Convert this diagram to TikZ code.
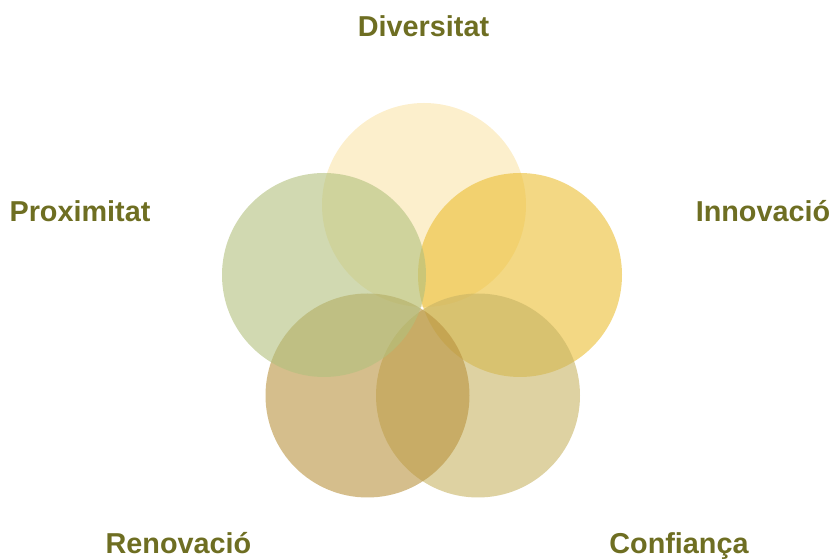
\documentclass[tikz,border=0pt]{standalone}
\usepackage{fontspec}
\setmainfont{Liberation Sans}
\usetikzlibrary{positioning}
\definecolor{labeltext}{HTML}{6E6E22}
\definecolor{petalA}{HTML}{FAE4AA}
\definecolor{petalB}{HTML}{EBBE32}
\definecolor{petalC}{HTML}{C8B464}
\definecolor{petalD}{HTML}{B9933F}
\definecolor{petalE}{HTML}{B2C07D}

\begin{document}
\begin{tikzpicture}[
        x=1pt, y=1pt,
        petal/.style={circle, minimum size=204pt, inner sep=0pt, fill opacity=0.6},
        caption/.style={font=\fontsize{28.8}{34}\selectfont\bfseries, text=labeltext, anchor=base}
    ]
    \useasboundingbox (0,0) rectangle (833,559);

    \node (diversitat) [petal, fill=petalA] at (424,354) {};
    \node (innovacio) [petal, fill=petalB] at (520,284) {};
    \node (confianca) [petal, fill=petalC] at (478,163.5) {};
    \node (renovacio) [petal, fill=petalD] at (367.5,163.5) {};
    \node (proximitat) [petal, fill=petalE] at (324,284) {};

    \node (lblDiversitat) [caption] at (423.5,522) {Diversitat};
    \node (lblInnovacio) [caption] at (763,337) {Innovació};
    \node (lblConfianca) [caption] at (679,5) {Confiança};
    \node (lblRenovacio) [caption] at (178.5,5) {Renovació};
    \node (lblProximitat) [caption] at (80,337) {Proximitat};

\end{tikzpicture}
\end{document}
